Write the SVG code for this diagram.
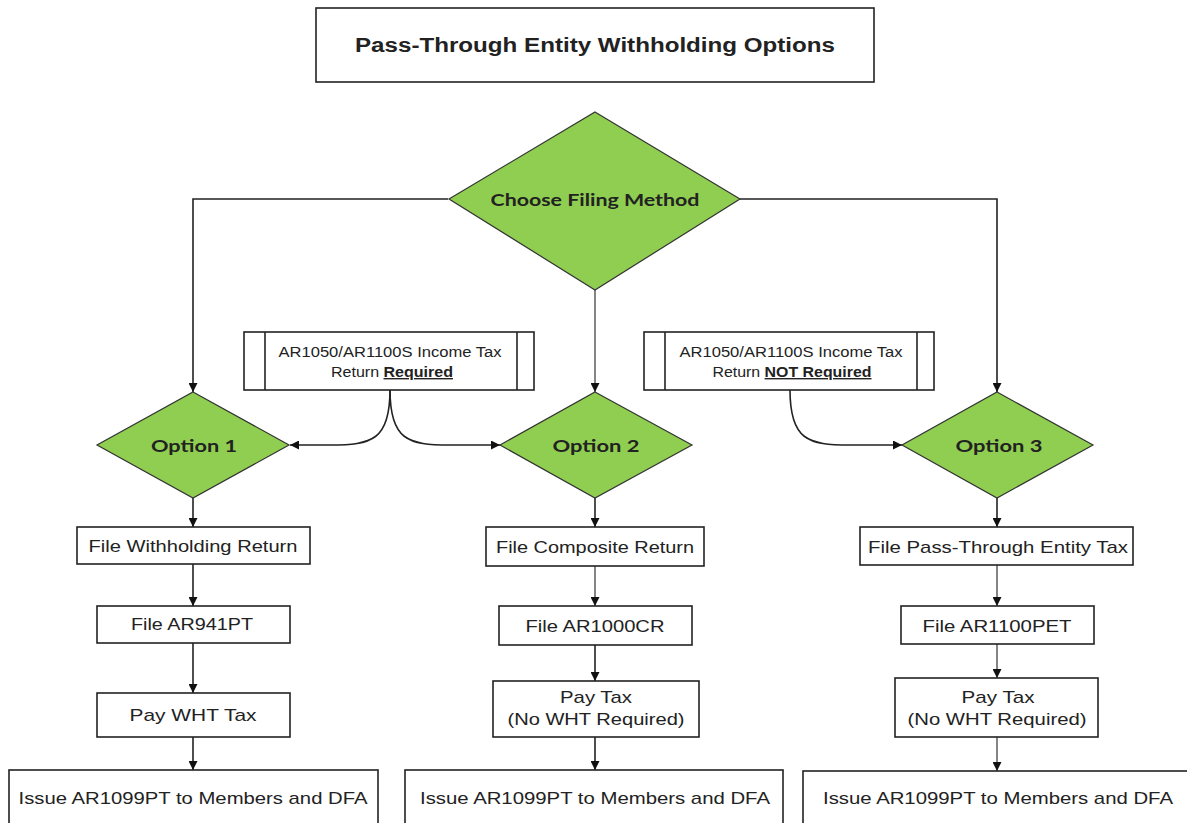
<svg xmlns="http://www.w3.org/2000/svg" width="1187" height="823" viewBox="0 0 1187 823">
<style>
.box{fill:#fff;stroke:#222;stroke-width:1.6}
.dia{fill:#8FCE50;stroke:#333;stroke-width:1.2}
.t{font-family:"Liberation Sans",Arial,sans-serif;font-size:17px;fill:#222;text-anchor:middle}
.ts{font-family:"Liberation Sans",Arial,sans-serif;font-size:14px;fill:#222;text-anchor:middle}
.tb{font-family:Lato,"Noto Sans",sans-serif;font-weight:bold;font-size:17px;fill:#222;text-anchor:middle}
.title{font-family:"Liberation Sans",Arial,sans-serif;font-weight:bold;font-size:20px;fill:#222;text-anchor:middle}
.c{fill:none;stroke:#222;stroke-width:1.6;marker-end:url(#ah)}
.g{stroke:#666}
</style>
<defs>
<marker id="ah" viewBox="0 0 10 10" refX="10" refY="5" markerWidth="9" markerHeight="9" markerUnits="userSpaceOnUse" orient="auto">
<path d="M0,0 L10,5 L0,10 z" fill="#111"/>
</marker>
</defs>
<g id="connectors">
<path class="c" d="M448,199 H193 V392"/>
<path class="c" d="M740,199 H997 V392"/>
<path class="c g" d="M595,290 V392"/>
<path class="c" d="M390,390 C390,440 372,445 330,445 L290,445"/>
<path class="c" d="M390,390 C390,440 408,445 450,445 L500,445"/>
<path class="c" d="M790,390 C790,440 808,445 850,445 L902,445"/>
<path class="c" d="M193,498 V527"/>
<path class="c" d="M193,564 V606"/>
<path class="c" d="M193,643 V693"/>
<path class="c" d="M193,737 V770"/>
<path class="c" d="M595,498 V527"/>
<path class="c g" d="M595,566 V606"/>
<path class="c" d="M595,645 V681"/>
<path class="c" d="M595,737 V770"/>
<path class="c" d="M997,498 V527"/>
<path class="c g" d="M997,565 V606"/>
<path class="c g" d="M997,644 V678"/>
<path class="c g" d="M997,737 V771"/>
</g>
<g id="title">
<rect class="box" x="316" y="8" width="558" height="74"/>
<text class="title" x="595" y="52" textLength="480" lengthAdjust="spacingAndGlyphs">Pass-Through Entity Withholding Options</text>
</g>
<g id="choose">
<polygon class="dia" points="595,112 740,199 595,290 449,199"/>
<text class="tb" x="595" y="206" textLength="209" lengthAdjust="spacingAndGlyphs">Choose Filing Method</text>
</g>
<g id="doc1">
<rect class="box" x="244" y="332" width="290" height="58"/>
<line x1="265" y1="332" x2="265" y2="390" stroke="#222" stroke-width="1.6"/>
<line x1="517" y1="332" x2="517" y2="390" stroke="#222" stroke-width="1.6"/>
<text class="ts" x="390" y="357" textLength="223" lengthAdjust="spacingAndGlyphs">AR1050/AR1100S Income Tax</text>
<text class="ts" x="392" y="377" textLength="122" lengthAdjust="spacingAndGlyphs">Return <tspan text-decoration="underline" font-weight="bold">Required</tspan></text>
</g>
<g id="doc2">
<rect class="box" x="644" y="332" width="290" height="58"/>
<line x1="665" y1="332" x2="665" y2="390" stroke="#222" stroke-width="1.6"/>
<line x1="917" y1="332" x2="917" y2="390" stroke="#222" stroke-width="1.6"/>
<text class="ts" x="791" y="357" textLength="223" lengthAdjust="spacingAndGlyphs">AR1050/AR1100S Income Tax</text>
<text class="ts" x="792" y="377" textLength="159" lengthAdjust="spacingAndGlyphs">Return <tspan text-decoration="underline" font-weight="bold">NOT Required</tspan></text>
</g>
<g id="opt1">
<polygon class="dia" points="193,392 289,445 193,498 97,445"/>
<text class="tb" x="194" y="452" textLength="86" lengthAdjust="spacingAndGlyphs">Option 1</text>
</g>
<g id="opt2">
<polygon class="dia" points="595,392 692,445 595,498 500,445"/>
<text class="tb" x="596" y="452" textLength="87" lengthAdjust="spacingAndGlyphs">Option 2</text>
</g>
<g id="opt3">
<polygon class="dia" points="997,392 1093,445 997,498 902,445"/>
<text class="tb" x="999" y="452" textLength="87" lengthAdjust="spacingAndGlyphs">Option 3</text>
</g>
<g id="c1b1">
<rect class="box" x="77" y="527" width="233" height="37"/>
<text class="t" x="193" y="552" textLength="209" lengthAdjust="spacingAndGlyphs">File Withholding Return</text>
</g>
<g id="c1b2">
<rect class="box" x="97" y="606" width="193" height="37"/>
<text class="t" x="192" y="630" textLength="122" lengthAdjust="spacingAndGlyphs">File AR941PT</text>
</g>
<g id="c1b3">
<rect class="box" x="97" y="693" width="193" height="44"/>
<text class="t" x="193" y="721" textLength="127" lengthAdjust="spacingAndGlyphs">Pay WHT Tax</text>
</g>
<g id="c1b4">
<rect class="box" x="9" y="770" width="369" height="70"/>
<text class="t" x="193" y="804" textLength="349" lengthAdjust="spacingAndGlyphs">Issue AR1099PT to Members and DFA</text>
</g>
<g id="c2b1">
<rect class="box" x="486" y="527" width="218" height="39"/>
<text class="t" x="595" y="553" textLength="198" lengthAdjust="spacingAndGlyphs">File Composite Return</text>
</g>
<g id="c2b2">
<rect class="box" x="499" y="606" width="193" height="39"/>
<text class="t" x="595" y="632" textLength="139" lengthAdjust="spacingAndGlyphs">File AR1000CR</text>
</g>
<g id="c2b3">
<rect class="box" x="493" y="681" width="206" height="56"/>
<text class="t" x="596" y="703" textLength="72" lengthAdjust="spacingAndGlyphs">Pay Tax</text>
<text class="t" x="596" y="725" textLength="177" lengthAdjust="spacingAndGlyphs">(No WHT Required)</text>
</g>
<g id="c2b4">
<rect class="box" x="405" y="770" width="378" height="70"/>
<text class="t" x="595" y="804" textLength="350" lengthAdjust="spacingAndGlyphs">Issue AR1099PT to Members and DFA</text>
</g>
<g id="c3b1">
<rect class="box" x="860" y="527" width="273" height="38"/>
<text class="t" x="998" y="553" textLength="260" lengthAdjust="spacingAndGlyphs">File Pass-Through Entity Tax</text>
</g>
<g id="c3b2">
<rect class="box" x="901" y="606" width="193" height="38"/>
<text class="t" x="997" y="632" textLength="149" lengthAdjust="spacingAndGlyphs">File AR1100PET</text>
</g>
<g id="c3b3">
<rect class="box" x="895" y="678" width="203" height="59"/>
<text class="t" x="998" y="703" textLength="73" lengthAdjust="spacingAndGlyphs">Pay Tax</text>
<text class="t" x="997" y="725" textLength="179" lengthAdjust="spacingAndGlyphs">(No WHT Required)</text>
</g>
<g id="c3b4">
<rect class="box" x="803" y="771" width="390" height="70"/>
<text class="t" x="998" y="804" textLength="350" lengthAdjust="spacingAndGlyphs">Issue AR1099PT to Members and DFA</text>
</g>
</svg>
